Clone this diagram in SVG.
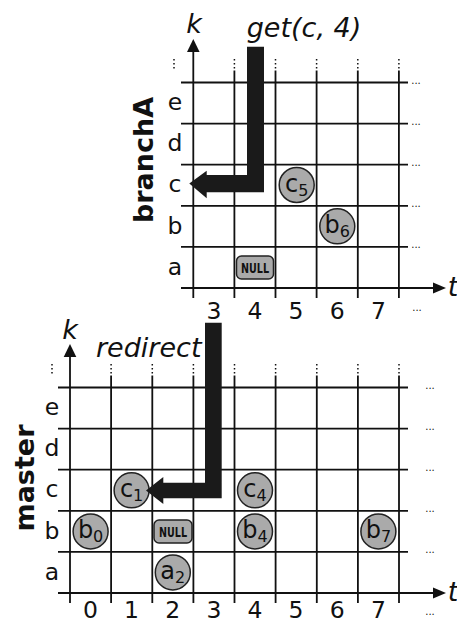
<svg xmlns="http://www.w3.org/2000/svg" width="457" height="623" viewBox="0 0 457 623">
<defs>
<style>
.g{stroke:#111;stroke-width:1.8;fill:none}
.dt{stroke:#111;stroke-width:1.5;stroke-dasharray:1.4 2.6;fill:none}
.ah{fill:#111}
.t{font-family:"DejaVu Sans",Verdana,sans-serif;fill:#111}
.lbl{font-size:23.5px;text-anchor:middle}
.it{font-size:27px;font-style:italic}
.bold{font-size:27px;font-weight:bold;text-anchor:middle}
.ell{font-size:10px;text-anchor:middle}
.nd circle{fill:#aaa;stroke:#222;stroke-width:1.5}
.nd rect{fill:#aaa;stroke:#222;stroke-width:1.5}
.nd .lbl{font-size:24px}
.nl{font-family:"DejaVu Sans",sans-serif;font-weight:bold;font-size:13.5px;fill:#111}
.big{fill:#1a1a1a}
</style>
</defs>
<rect width="457" height="623" fill="#fff"/>

<!-- top grid (branchA) -->
<g id="gridA">
<path class="g" d="M181 82.5H408M181 123.6H408M181 164.7H408M181 205.8H408M181 246.9H408M181 288H434"/>
<path class="g" d="M234.4 70.5V298M275.5 70.5V298M316.6 70.5V298M357.8 70.5V298M398.9 70.5V298M193.3 298V51"/>
<path class="dt" d="M174 59V71M234.4 59V71M275.5 59V71M316.6 59V71M357.8 59V71M398.9 59V71"/>
<polygon class="ah" points="187,52 193.3,39 199.6,52"/>
<polygon class="ah" points="433,282.5 446,288 433,293.5"/>
<g class="t ell"><text x="416" y="84">...</text><text x="416" y="125">...</text><text x="416" y="166">...</text><text x="416" y="207">...</text><text x="416" y="248">...</text><text x="417" y="311">...</text></g>
<g class="t lbl"><text x="175" y="110">e</text><text x="175" y="151">d</text><text x="175" y="192">c</text><text x="175" y="234">b</text><text x="175" y="275">a</text>
<text x="214" y="319">3</text><text x="255" y="319">4</text><text x="296" y="319">5</text><text x="337.3" y="319">6</text><text x="378.4" y="319">7</text></g>
<text class="t it" x="194" y="33" text-anchor="middle">k</text>
<text class="t it" x="453" y="296" text-anchor="middle">t</text>
<text class="t bold" transform="translate(153,160) rotate(-90)">branchA</text>
</g>

<!-- bottom grid (master) -->
<g id="gridM">
<path class="g" d="M58 387.5H408M58 428.6H408M58 469.7H408M58 510.8H408M58 551.9H408M58 593H434"/>
<path class="g" d="M111.1 375.5V603M152.3 375.5V603M193.4 375.5V603M234.5 375.5V603M275.6 375.5V603M316.8 375.5V603M357.9 375.5V603M399 375.5V603M70 603V356"/>
<path class="dt" d="M52 364V376M111.1 364V376M152.3 364V376M193.4 364V376M234.5 364V376M275.6 364V376M316.8 364V376M357.9 364V376M399 364V376"/>
<polygon class="ah" points="63.7,357 70,344 76.3,357"/>
<polygon class="ah" points="433,587.5 446,593 433,598.5"/>
<g class="t ell"><text x="430" y="389">...</text><text x="430" y="430">...</text><text x="430" y="471">...</text><text x="430" y="512">...</text><text x="430" y="553">...</text><text x="430" y="615">...</text></g>
<g class="t lbl"><text x="90.5" y="618">0</text><text x="131.6" y="618">1</text><text x="172.8" y="618">2</text><text x="214" y="618">3</text><text x="255" y="618">4</text><text x="296" y="618">5</text><text x="337.3" y="618">6</text><text x="378.4" y="618">7</text>
<text x="52" y="415">e</text><text x="52" y="456">d</text><text x="52" y="497">c</text><text x="52" y="539">b</text><text x="52" y="580">a</text></g>
<text class="t it" x="70" y="339" text-anchor="middle">k</text>
<text class="t it" x="453" y="601" text-anchor="middle">t</text>
<text class="t bold" transform="translate(34,478) rotate(-90)">master</text>
</g>

<!-- nodes -->
<g id="nA_c5" class="nd"><circle cx="296.7" cy="185" r="17.5"/><text class="t lbl" x="296.7" y="192">c<tspan font-size="16" dy="4">5</tspan></text></g>
<g id="nA_b6" class="nd"><circle cx="337.3" cy="226.3" r="17.5"/><text class="t lbl" x="337.3" y="233">b<tspan font-size="16" dy="4">6</tspan></text></g>
<g id="nA_null" class="nd"><rect x="236.5" y="256" width="37" height="23" rx="5"/><text class="nl" x="241" y="272.5" textLength="28" lengthAdjust="spacingAndGlyphs">NULL</text></g>

<g id="nM_c1" class="nd"><circle cx="131.6" cy="490.3" r="17.5"/><text class="t lbl" x="131.6" y="497">c<tspan font-size="16" dy="4">1</tspan></text></g>
<g id="nM_b0" class="nd"><circle cx="90.6" cy="531.4" r="17.5"/><text class="t lbl" x="90.6" y="538">b<tspan font-size="16" dy="4">0</tspan></text></g>
<g id="nM_null" class="nd"><rect x="154" y="520" width="38" height="23" rx="5"/><text class="nl" x="159" y="536.5" textLength="28" lengthAdjust="spacingAndGlyphs">NULL</text></g>
<g id="nM_a2" class="nd"><circle cx="172.8" cy="572.4" r="17.5"/><text class="t lbl" x="172.8" y="579">a<tspan font-size="16" dy="4">2</tspan></text></g>
<g id="nM_c4" class="nd"><circle cx="255" cy="490.3" r="17.5"/><text class="t lbl" x="255" y="497">c<tspan font-size="16" dy="4">4</tspan></text></g>
<g id="nM_b4" class="nd"><circle cx="255" cy="531.4" r="17.5"/><text class="t lbl" x="255" y="538">b<tspan font-size="16" dy="4">4</tspan></text></g>
<g id="nM_b7" class="nd"><circle cx="378.4" cy="531.4" r="17.5"/><text class="t lbl" x="378.4" y="538">b<tspan font-size="16" dy="4">7</tspan></text></g>

<!-- connectors -->
<g id="connectors">
<polygon class="big" points="247,46.7 264,46.7 264,192.3 206.7,192.3 206.7,198.3 189.3,183.5 206.7,170.7 206.7,175 247,175"/>
<polygon class="big" points="205,322.7 221.7,322.7 221.7,498.3 163.3,498.3 163.3,504 146,490.5 163.3,477 163.3,482.7 205,482.7"/>
<text class="t it" x="246.7" y="36.7" font-size="28.5">get(c, 4)</text>
<text class="t it" x="96" y="356.7">redirect</text>
</g>
</svg>
